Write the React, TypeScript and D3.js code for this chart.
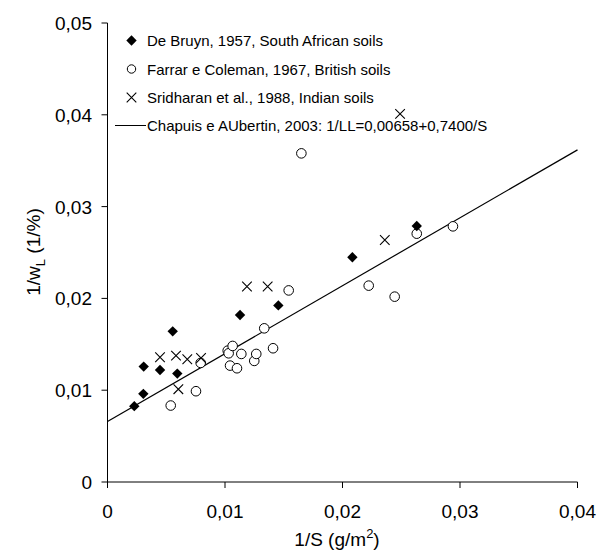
import React from "react";
import * as d3 from "d3";

const deBruynX = [0.00228, 0.00305, 0.00308, 0.00447, 0.00555, 0.00594, 0.01128, 0.01454, 0.02084, 0.02632];
const deBruynY = [0.00826, 0.0096, 0.01257, 0.0122, 0.01641, 0.01181, 0.01819, 0.01924, 0.02448, 0.02789];

const farrarX = [0.00538, 0.00753, 0.00793, 0.01023, 0.01031, 0.01065, 0.01043, 0.01102, 0.01139, 0.01249, 0.01266, 0.01334, 0.01409, 0.01542, 0.0165, 0.02223, 0.02444, 0.02632, 0.0294];
const farrarY = [0.00833, 0.00989, 0.01297, 0.01431, 0.01402, 0.01482, 0.01268, 0.01239, 0.01395, 0.01319, 0.01395, 0.01674, 0.01457, 0.02087, 0.0358, 0.02139, 0.02019, 0.02705, 0.02785];

const sridharanX = [0.00447, 0.00583, 0.00679, 0.00796, 0.00603, 0.01187, 0.01363, 0.0236, 0.0249];
const sridharanY = [0.01359, 0.01377, 0.01337, 0.01351, 0.01011, 0.0213, 0.0213, 0.02636, 0.0401];

const intercept = 0.00658;
const slope = 0.74;

const xTicks = [0, 0.01, 0.02, 0.03, 0.04];
const yTicks = [0, 0.01, 0.02, 0.03, 0.04, 0.05];

const legendLabels = [
  "De Bruyn, 1957, South African soils",
  "Farrar e Coleman, 1967, British soils",
  "Sridharan et al., 1988, Indian soils",
  "Chapuis e AUbertin, 2003: 1/LL=0,00658+0,7400/S",
];

const fmt = (v: number) => (v === 0 ? "0" : v.toFixed(2).replace(".", ","));
const font = "'Liberation Sans', Arial, sans-serif";

function Diamond({ cx, cy }: { cx: number; cy: number }) {
  const r = 5.2;
  return <path d={`M${cx},${cy - r}L${cx + r},${cy}L${cx},${cy + r}L${cx - r},${cy}Z`} fill="#000" />;
}
function Circle({ cx, cy, r = 4.8 }: { cx: number; cy: number; r?: number }) {
  return <circle cx={cx} cy={cy} r={r} fill="#fff" stroke="#000" strokeWidth={1} />;
}
function Cross({ cx, cy }: { cx: number; cy: number }) {
  const r = 4.8;
  return (
    <path d={`M${cx - r},${cy - r}L${cx + r},${cy + r}M${cx - r},${cy + r}L${cx + r},${cy - r}`} stroke="#000" strokeWidth={1.1} />
  );
}

export default function App() {
  const width = 598;
  const height = 558;
  const x = d3.scaleLinear().domain([0, 0.04]).range([107.5, 577.5]);
  const y = d3.scaleLinear().domain([0, 0.05]).range([482, 23]);
  const fit = d3
    .line<number>()
    .x((d) => x(d))
    .y((d) => y(intercept + slope * d));

  return (
    <svg width={width} height={height} style={{ position: "absolute", left: 0, top: 0, background: "#fff" }} fontFamily={font}>
      {/* axes */}
      <line x1={x(0)} x2={x(0.04)} y1={y(0)} y2={y(0)} stroke="#000" />
      <line x1={x(0)} x2={x(0)} y1={y(0)} y2={y(0.05)} stroke="#000" />
      {xTicks.map((t) => (
        <g key={"x" + t}>
          <line x1={x(t)} x2={x(t)} y1={y(0)} y2={y(0) + 6} stroke="#000" />
          <text x={x(t)} y={518} textAnchor="middle" fontSize={19}>
            {fmt(t)}
          </text>
        </g>
      ))}
      {yTicks.map((t) => (
        <g key={"y" + t}>
          <line x1={x(0) - 6} x2={x(0)} y1={y(t)} y2={y(t)} stroke="#000" />
          <text x={x(0) - 15.5} y={y(t) + 7} textAnchor="end" fontSize={19}>
            {fmt(t)}
          </text>
        </g>
      ))}
      <text x={337} y={546} textAnchor="middle" fontSize={19}>
        1/S (g/m<tspan dy={-8} fontSize={13}>2</tspan>
        <tspan dy={8}>)</tspan>
      </text>
      <text transform={`translate(40,252) rotate(-90)`} textAnchor="middle" fontSize={19}>
        1/w<tspan dy={5} fontSize={13}>L</tspan>
        <tspan dy={-5}> (1/%)</tspan>
      </text>

      {/* regression line */}
      <path d={fit([0, 0.04]) ?? ""} fill="none" stroke="#000" strokeWidth={1.2} />

      {/* points */}
      {farrarX.map((v, i) => (
        <Circle key={"f" + i} cx={x(v)} cy={y(farrarY[i])} />
      ))}
      {deBruynX.map((v, i) => (
        <Diamond key={"d" + i} cx={x(v)} cy={y(deBruynY[i])} />
      ))}
      {sridharanX.map((v, i) => (
        <Cross key={"s" + i} cx={x(v)} cy={y(sridharanY[i])} />
      ))}

      {/* legend */}
      <g fontSize={15}>
        <Diamond cx={131.5} cy={40.5} />
        <text x={147} y={46}>{legendLabels[0]}</text>
        <Circle cx={131.5} cy={69} r={4.2} />
        <text x={147} y={74.5}>{legendLabels[1]}</text>
        <Cross cx={131.5} cy={97.5} />
        <text x={147} y={103}>{legendLabels[2]}</text>
        <line x1={115} x2={146} y1={125.5} y2={125.5} stroke="#000" />
        <text x={147} y={131}>{legendLabels[3]}</text>
      </g>
    </svg>
  );
}
